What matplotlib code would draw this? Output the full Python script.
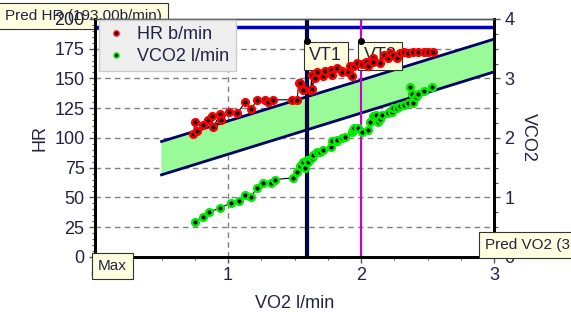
import matplotlib.pyplot as plt
import numpy as np
from matplotlib.ticker import MultipleLocator
from matplotlib.lines import Line2D

plt.rcParams['font.family'] = ['Liberation Sans', 'DejaVu Sans']

# HR (b/min) vs VO2 (l/min)
hr_vo2 = [0.74, 0.75, 0.77, 0.81, 0.85, 0.88, 0.89, 0.94, 0.95, 1.01, 1.07, 1.13,
          1.17, 1.22, 1.28, 1.30, 1.34, 1.48, 1.52, 1.53, 1.54, 1.56, 1.56, 1.62,
          1.63, 1.63, 1.65, 1.67, 1.71, 1.73, 1.77, 1.78, 1.82, 1.86, 1.86, 1.90,
          1.92, 1.93, 1.95, 1.97, 2.01, 2.04, 2.05, 2.09, 2.09, 2.14, 2.17, 2.20,
          2.22, 2.24, 2.27, 2.29, 2.32, 2.35, 2.39, 2.43, 2.47, 2.50, 2.54]
hr = [103, 113, 106, 111, 115, 118, 109, 120, 115, 122, 121, 130,
      124, 132, 132, 130, 132, 132, 132, 146, 146, 141, 140, 140,
      153, 141, 150, 155, 152, 156, 157, 153, 159, 156, 155, 155,
      160, 152, 160, 163, 162, 164, 160, 167, 164, 163, 170, 167,
      171, 170, 167, 171, 172, 171, 172, 172, 172, 172, 172]

# VCO2 (l/min) vs VO2 (l/min)
co2_vo2 = [0.75, 0.81, 0.86, 0.94, 1.02, 1.08, 1.13, 1.17, 1.22, 1.26, 1.32, 1.35,
           1.49, 1.52, 1.54, 1.56, 1.56, 1.58, 1.59, 1.60, 1.63, 1.64, 1.67, 1.69,
           1.71, 1.77, 1.78, 1.82, 1.82, 1.86, 1.88, 1.93, 1.94, 1.95, 1.98, 2.01,
           2.05, 2.07, 2.09, 2.11, 2.13, 2.14, 2.16, 2.20, 2.23, 2.24, 2.27, 2.29,
           2.32, 2.35, 2.37, 2.38, 2.39, 2.41, 2.43, 2.47, 2.53]
vco2 = [0.59, 0.67, 0.76, 0.82, 0.91, 0.94, 1.04, 1.01, 1.16, 1.25, 1.25, 1.30,
        1.33, 1.43, 1.52, 1.58, 1.60, 1.50, 1.63, 1.60, 1.67, 1.72, 1.77, 1.77,
        1.80, 1.84, 1.94, 1.94, 1.97, 2.00, 2.02, 2.10, 2.14, 2.17, 2.17, 2.10,
        2.14, 2.27, 2.36, 2.39, 2.26, 2.31, 2.39, 2.42, 2.44, 2.51, 2.51, 2.53,
        2.56, 2.59, 2.85, 2.73, 2.59, 2.68, 2.73, 2.78, 2.86]

# predicted HR band
band_x = [0.5, 3.0]
band_low = [69, 155.5]
band_high = [97, 183]

pred_hr = 193
vt1 = 1.59
vt2 = 2.0

txt = '#222244'

fig = plt.figure(figsize=(5.71, 3.2), dpi=100)
ax = fig.add_axes([0.1664, 0.197, 0.699, 0.744])
ax2 = ax.twinx()

ax.patch.set_alpha(0)

ax.set_xlim(0, 3)
ax.set_ylim(0, 200)
ax2.set_ylim(0, 4)

ax.fill_between(band_x, band_low, band_high, color='#98fb98', zorder=1)
ax.plot(band_x, band_low, color='#000066', lw=2, zorder=2)
ax.plot(band_x, band_high, color='#000066', lw=2, zorder=2)

ax.axhline(pred_hr, color='#0000cc', lw=2.5, zorder=2)
ax.axvline(vt1, color='black', lw=3, zorder=2)
ax.axvline(vt1, color='#0000aa', lw=1, zorder=2)
ax.axvline(vt2, color='#cc00cc', lw=1.5, zorder=2)
ax.plot([vt1, vt2], [181, 181], 'o', color='black', ms=4, zorder=3)

box = dict(boxstyle='square,pad=0.3', fc='#ffffe0', ec='#333333', lw=0.8)
box2 = dict(boxstyle='square,pad=0.4', fc='#ffffe0', ec='#333333', lw=0.8)
ax.text(vt1 + 0.02, 169, 'VT1', fontsize=13, color=txt, va='center', ha='left',
        bbox=box, zorder=2.2)
ax.text(vt2 + 0.02, 169, 'VT2', fontsize=13, color=txt, va='center', ha='left',
        bbox=box, zorder=2.2)

ax.plot(hr_vo2, hr, '-', color='black', lw=0.8, zorder=3)
ax.plot(hr_vo2, hr, 'o', mfc='black', mec='red', mew=1.8, ms=4.8, zorder=4)
ax2.plot(co2_vo2, vco2, '-', color='black', lw=0.8, zorder=3)
ax2.plot(co2_vo2, vco2, 'o', mfc='black', mec='#00ee00', mew=1.8, ms=4.8, zorder=4)

# grid
for v in [25, 50, 75, 100, 125, 150, 175]:
    ax.axhline(v, color='gray', ls=(0, (4, 3)), lw=1, zorder=0.5)
for v in [1, 2]:
    ax.axvline(v, color='gray', ls=(0, (4, 3)), lw=1, zorder=0.5)

ax.xaxis.set_major_locator(MultipleLocator(1))
ax.xaxis.set_minor_locator(MultipleLocator(0.25))
ax.yaxis.set_major_locator(MultipleLocator(25))
ax.yaxis.set_minor_locator(MultipleLocator(5))
ax2.yaxis.set_major_locator(MultipleLocator(1))
ax2.yaxis.set_minor_locator(MultipleLocator(0.25))

ax.tick_params(axis='both', which='major', labelsize=13, labelcolor=txt, length=4,
               width=1, color='#555555')
ax.tick_params(axis='both', which='minor', length=2, width=0.8, color='#555555')
ax2.tick_params(axis='y', which='major', labelsize=13, labelcolor=txt, length=4,
                width=1, color='#555555')
ax2.tick_params(axis='y', which='minor', length=3, width=0.8, color='#555555')

for a in (ax, ax2):
    for s in ['left', 'bottom', 'right']:
        a.spines[s].set_linewidth(2)
    a.spines['top'].set_linewidth(1)
    a.spines['top'].set_color('#555555')

ax.set_xlabel('VO2 l/min', fontsize=13, color=txt, labelpad=8)
ax.set_ylabel('HR', fontsize=13, color=txt, labelpad=4)
ax2.set_ylabel('VCO2', fontsize=13, color=txt, rotation=270, labelpad=16)

handles = [Line2D([], [], marker='o', ls='', mfc='black', mec='red', mew=1.2, ms=3.5),
           Line2D([], [], marker='o', ls='', mfc='black', mec='#00ee00', mew=1.2, ms=3.5)]
leg = ax2.legend(handles, ['HR b/min', 'VCO2 l/min'], loc='upper left',
                 bbox_to_anchor=(0.0, 1.01), fontsize=13, frameon=True, fancybox=False,
                 handlelength=1.2, handletextpad=0.6, borderpad=0.35, labelspacing=0.25,
                 borderaxespad=0.2)
leg.get_frame().set_facecolor('#eeeeee')
leg.get_frame().set_edgecolor('#cccccc')
leg.get_frame().set_alpha(1)
for t in leg.get_texts():
    t.set_color(txt)

ax2.text(0.008, -0.01, 'Max', transform=ax.transAxes, fontsize=11, color=txt,
         va='top', ha='left', bbox=box2, zorder=10, clip_on=False)
fig.text(0.008, 0.95, 'Pred HR (193.00b/min)', fontsize=11, color=txt, va='center',
         ha='left', bbox=box2, zorder=-1)
fig.text(0.85, 0.235, 'Pred VO2 (3.00 l/min)', fontsize=11, color=txt, va='center',
         ha='left', bbox=box2, zorder=10)

fig.savefig('out.png', dpi=100, facecolor='white')
